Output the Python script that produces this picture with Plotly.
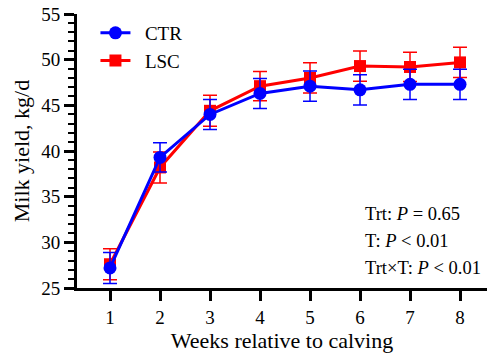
import plotly.graph_objects as go

weeks = [1, 2, 3, 4, 5, 6, 7, 8]
ctr = [27.2, 39.3, 44.0, 46.3, 47.1, 46.7, 47.3, 47.3]
ctr_err = [1.7, 1.6, 1.65, 1.65, 1.65, 1.65, 1.65, 1.65]
lsc = [27.6, 38.2, 44.4, 47.1, 48.0, 49.3, 49.2, 49.7]
lsc_err = [1.7, 1.7, 1.7, 1.6, 1.65, 1.65, 1.6, 1.65]
stats_lines = ["Trt: <i>P</i> = 0.65", "T: <i>P</i> < 0.01", "Trt×T: <i>P</i> < 0.01"]
stats_y = [33.1, 30.15, 27.2]

FONT = "Liberation Serif"

fig = go.Figure()
fig.add_trace(go.Scatter(
    x=weeks, y=lsc, name="\u2002LSC", mode="lines+markers",
    line=dict(color="#ff0000", width=3),
    marker=dict(symbol="square", size=12, color="#ff0000"),
    error_y=dict(type="data", array=lsc_err, color="#ff0000", thickness=1.5, width=7),
    legendrank=2,
))
fig.add_trace(go.Scatter(
    x=weeks, y=ctr, name="\u2002CTR", mode="lines+markers",
    line=dict(color="#0000ff", width=3),
    marker=dict(symbol="circle", size=13, color="#0000ff"),
    error_y=dict(type="data", array=ctr_err, color="#0000ff", thickness=1.5, width=7),
    legendrank=1,
))

fig.update_layout(
    width=489, height=355,
    margin=dict(l=77, r=2, t=14, b=67),
    plot_bgcolor="white", paper_bgcolor="white",
    font=dict(family=FONT, size=18, color="black"),
    showlegend=True,
    legend=dict(x=0.045, y=1.0, xanchor="left", yanchor="top",
                font=dict(size=19), itemwidth=30, bgcolor="rgba(0,0,0,0)",
                tracegroupgap=4),
    xaxis=dict(range=[0.34, 8.54], tickvals=weeks, ticktext=[str(w) for w in weeks],
               showline=True, linecolor="black", linewidth=3, ticks="outside",
               ticklen=10, tickwidth=3, tickcolor="black", showgrid=False, zeroline=False,
               title=dict(text="Weeks relative to calving", standoff=6),
               tickfont=dict(size=19)),
    yaxis=dict(range=[25, 55], tickvals=[25, 30, 35, 40, 45, 50, 55],
               showline=True, linecolor="black", linewidth=3, ticks="outside",
               ticklen=10, tickwidth=3, tickcolor="black", showgrid=False, zeroline=False,
               minor=dict(dtick=1, ticks="outside", ticklen=6, tickwidth=2, tickcolor="black", showgrid=False),
               title=dict(text="Milk yield, kg/d", standoff=6),
               tickfont=dict(size=19)),
)

for txt, yv in zip(stats_lines, stats_y):
    fig.add_annotation(
        x=6.06, y=yv, xref="x", yref="y", xanchor="left", yanchor="middle",
        showarrow=False, text=txt, font=dict(size=18.5),
    )

fig.write_html("out.html", config={"displayModeBar": False},
               post_script="document.body.style.margin='0px';")
